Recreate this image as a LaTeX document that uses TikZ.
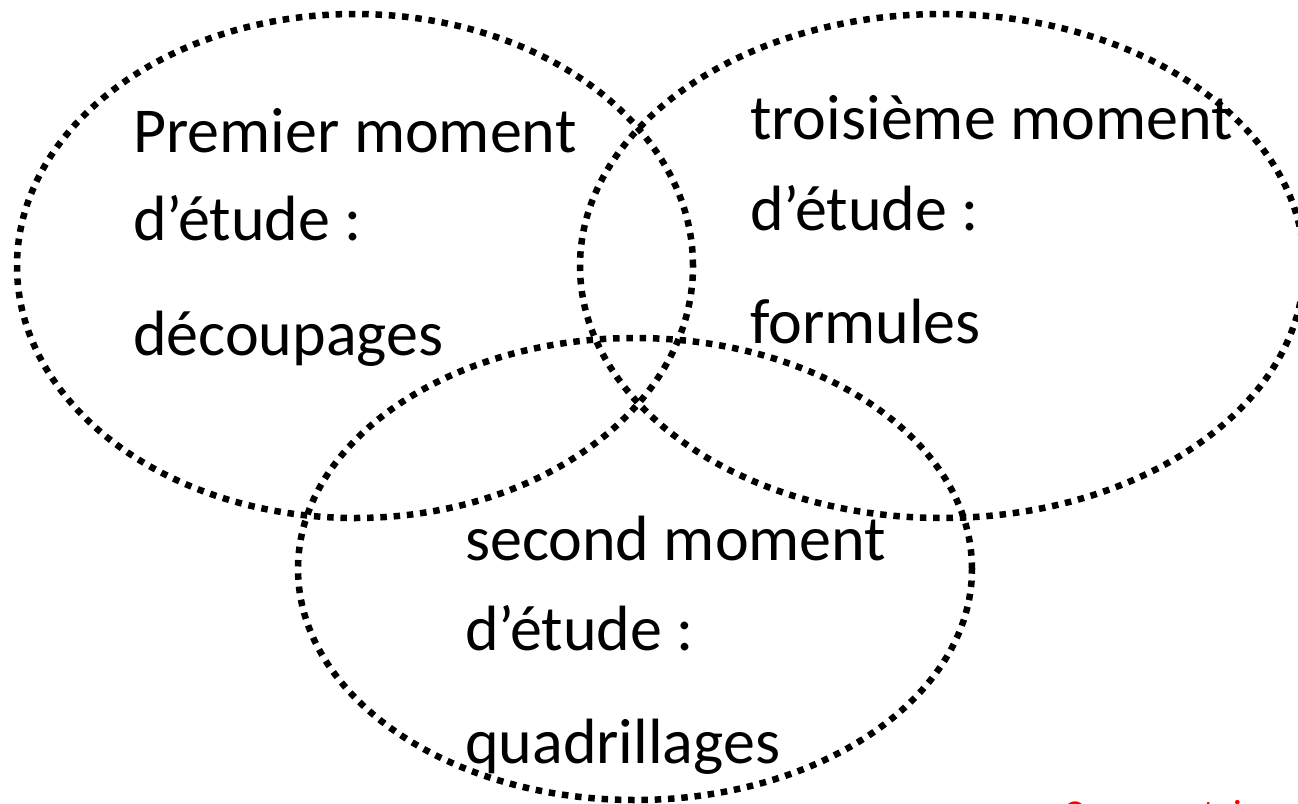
\documentclass[tikz,border=0pt]{standalone}
\usepackage{fontspec}
\setmainfont{Carlito}
\usetikzlibrary{positioning}
\definecolor{cred}{HTML}{FF0000}
\tikzset{
  every picture/.style={x=1pt, y=-1pt},
  oval/.style={draw=black, line width=6.5pt, dash pattern=on 6.5pt off 6.8pt},
  word/.style={anchor=base west, inner sep=0pt, font=\fontsize{64}{77}\selectfont},
  note/.style={anchor=base west, inner sep=0pt, text=cred, font=\fontsize{38}{46}\selectfont},
}
\begin{document}
\begin{tikzpicture}
  \useasboundingbox (0,0) rectangle (1298,803);
  % the three study moments
  \draw[oval] (355,266) ellipse [x radius=338pt, y radius=252pt];
  \draw[oval] (942,266) ellipse [x radius=362pt, y radius=252pt];
  \draw[oval] (635,569) ellipse [x radius=337pt, y radius=231pt];
  % first moment
  \node[word] (firstA) at (133,152) {Premier moment};
  \node[word] (firstB) at (133,240) {d’étude :};
  \node[word] (firstC) at (133,355) {découpages};
  % third moment
  \node[word] (thirdA) at (750,139) {troisième moment};
  \node[word] (thirdB) at (750,230) {d’étude :};
  \node[word] (thirdC) at (750,343) {formules};
  % second moment
  \node[word] (secondA) at (465,560) {second moment};
  \node[word] (secondB) at (465,650) {d’étude :};
  \node[word] (secondC) at (465,763) {quadrillages};
  % cut-off note
  \node[note] (comment) at (1063,826) {Commentaire};
\end{tikzpicture}
\end{document}
